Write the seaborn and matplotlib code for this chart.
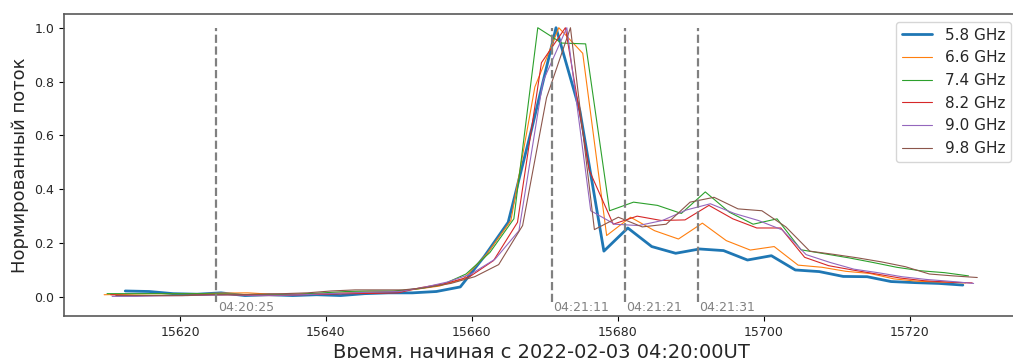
# Normalized flux curves, 2022-02-03 flare

import numpy as np
import pandas as pd
import matplotlib
matplotlib.use("Agg")
import matplotlib.pyplot as plt
import seaborn as sns

# 1. Data (seconds since 00:00 UT, normalized flux)
freqs = ["5.8 GHz", "6.6 GHz", "7.4 GHz", "8.2 GHz", "9.0 GHz", "9.8 GHz"]
t_step = 3.28
t_start = {"5.8 GHz": 15612.5, "6.6 GHz": 15609.6, "7.4 GHz": 15610.0,
           "8.2 GHz": 15610.5, "9.0 GHz": 15610.7, "9.8 GHz": 15611.2}

flux_58 = [0.022, 0.020, 0.012, 0.010, 0.015, 0.005, 0.008, 0.005, 0.008, 0.005,
           0.012, 0.015, 0.015, 0.020, 0.037, 0.150, 0.277, 0.630, 1.000, 0.690,
           0.170, 0.256, 0.187, 0.162, 0.178, 0.172, 0.137, 0.153, 0.100, 0.094,
           0.076, 0.075, 0.057, 0.053, 0.050, 0.044]
flux_66 = [0.008, 0.010, 0.012, 0.012, 0.012, 0.014, 0.015, 0.010, 0.010, 0.012,
           0.015, 0.018, 0.020, 0.028, 0.040, 0.066, 0.160, 0.284, 0.780, 1.000,
           0.905, 0.228, 0.296, 0.246, 0.215, 0.274, 0.209, 0.174, 0.187, 0.118,
           0.110, 0.095, 0.087, 0.067, 0.058, 0.055, 0.052]
flux_74 = [0.012, 0.012, 0.012, 0.012, 0.012, 0.010, 0.008, 0.008, 0.010, 0.015,
           0.020, 0.022, 0.022, 0.030, 0.045, 0.085, 0.165, 0.290, 1.000, 0.943,
           0.940, 0.320, 0.352, 0.340, 0.310, 0.390, 0.315, 0.270, 0.290, 0.175,
           0.160, 0.145, 0.128, 0.110, 0.097, 0.090, 0.078]
flux_82 = [0.008, 0.005, 0.005, 0.005, 0.008, 0.008, 0.005, 0.005, 0.008, 0.010,
           0.012, 0.013, 0.015, 0.035, 0.050, 0.075, 0.135, 0.277, 0.870, 1.000,
           0.470, 0.270, 0.300, 0.284, 0.286, 0.340, 0.290, 0.256, 0.256, 0.147,
           0.116, 0.100, 0.085, 0.070, 0.060, 0.055, 0.052]
flux_90 = [0.002, 0.002, 0.004, 0.005, 0.006, 0.008, 0.006, 0.006, 0.008, 0.012,
           0.015, 0.018, 0.020, 0.035, 0.055, 0.085, 0.140, 0.246, 0.800, 1.000,
           0.320, 0.270, 0.265, 0.284, 0.323, 0.346, 0.310, 0.284, 0.249, 0.157,
           0.128, 0.103, 0.090, 0.075, 0.065, 0.058, 0.050]
flux_98 = [0.005, 0.005, 0.005, 0.005, 0.008, 0.008, 0.010, 0.012, 0.015, 0.022,
           0.026, 0.026, 0.026, 0.035, 0.050, 0.075, 0.120, 0.265, 0.740, 1.000,
           0.250, 0.296, 0.260, 0.270, 0.352, 0.370, 0.327, 0.320, 0.260, 0.170,
           0.158, 0.145, 0.130, 0.112, 0.085, 0.078, 0.072]
fluxes = [flux_58, flux_66, flux_74, flux_82, flux_90, flux_98]

marker_t = [15625, 15671, 15681, 15691]
marker_lbl = ["04:20:25", "04:21:11", "04:21:21", "04:21:31"]

# 2. Long table
frames = []
for f, vals in zip(freqs, fluxes):
    t = t_start[f] + t_step * np.arange(len(vals))
    frames.append(pd.DataFrame({"t": t, "flux": vals, "freq": f}))
df = pd.concat(frames, ignore_index=True)

# 3. Plot
sns.set_style("ticks")
plt.rcParams["font.family"] = ["DejaVu Sans"]
plt.rcParams["axes.edgecolor"] = "0.35"
plt.rcParams["axes.linewidth"] = 1.2

fig = plt.figure(figsize=(10.13, 3.58), dpi=100)
# the original was cropped on the right, so the axes run just past the edge
ax = fig.add_axes([64/1013, 42/358, (1019-64)/1013, (316-14)/358])

colors = sns.color_palette("tab10", 6)
for i, f in enumerate(freqs):
    sub = df[df["freq"] == f]
    sns.lineplot(data=sub, x="t", y="flux", ax=ax, color=colors[i],
                 lw=2.0 if i == 0 else 0.8, label=f)

for t, lbl in zip(marker_t, marker_lbl):
    ax.vlines(t, -0.02, 1.0, colors="gray", linestyles="--", lw=1.6)
    ax.text(t + 0.2, -0.052, lbl, color="gray", fontsize=9)

ax.set_xlim(15604.1, 15735)
ax.set_ylim(-0.071, 1.051)
ax.set_xticks([15620, 15640, 15660, 15680, 15700, 15720])
ax.set_yticks([0.0, 0.2, 0.4, 0.6, 0.8, 1.0])
ax.tick_params(labelsize=9, color="black", length=3.5)
ax.set_xlabel("Время, начиная с 2022-02-03 04:20:00UT", fontsize=14, labelpad=3)
ax.set_ylabel("Нормированный поток", fontsize=13)
ax.legend(loc="upper right", fontsize=11, frameon=True, handlelength=2.0)

plt.savefig("out.png", dpi=100)
